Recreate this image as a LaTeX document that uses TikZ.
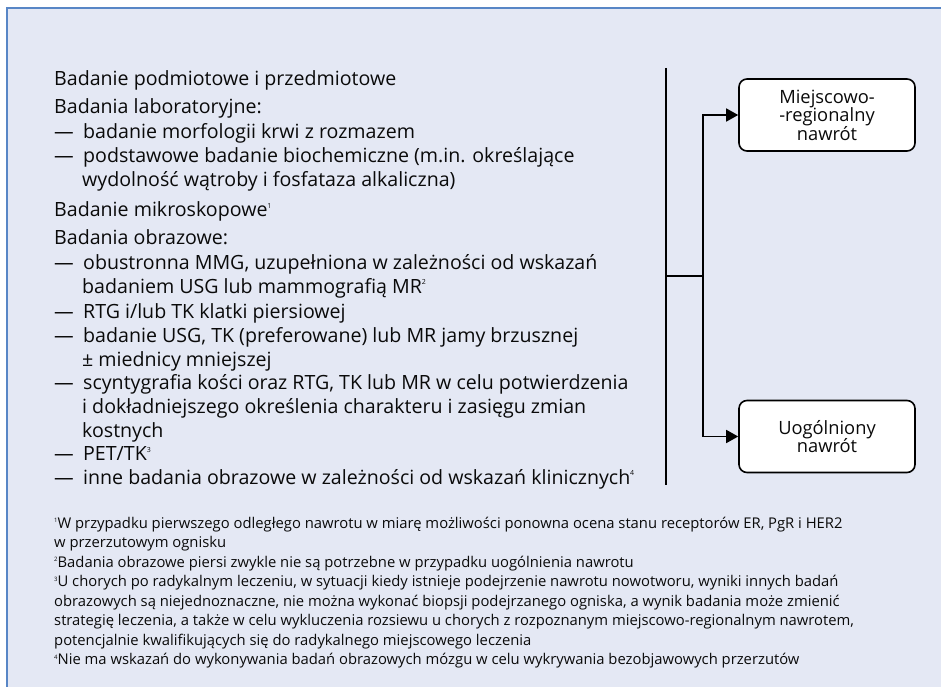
\documentclass[tikz,border=0pt]{standalone}
\usepackage{fontspec}
\setmainfont{Open Sans}
\usetikzlibrary{arrows.meta}
\definecolor{framefill}{RGB}{228,232,244}
\definecolor{frameline}{RGB}{88,134,198}
\definecolor{txt}{RGB}{10,10,10}
\newcommand{\mainsup}[1]{\raisebox{8.5pt}{\fontsize{7}{7}\selectfont #1}}
\newcommand{\fnsup}[1]{\raisebox{5.5pt}{\fontsize{6}{6}\selectfont #1}}
\newcommand{\dashitem}{\makebox[29pt][l]{—}}
\begin{document}
\begin{tikzpicture}[x=1pt,y=-1pt,
  mainline/.style={anchor=base west, inner sep=0pt, font=\fontsize{19.6}{24}\selectfont, text=txt},
  fnline/.style={anchor=base west, inner sep=0pt, font=\fontsize{14.8}{19}\selectfont, text=txt},
  outcome/.style={draw=black, line width=1.6pt, fill=white, rounded corners=8pt, minimum width=176pt, minimum height=72pt, align=center, inner sep=0pt, font=\fontsize{18.3}{18.5}\selectfont, text=txt},
  link/.style={line width=1.6pt, draw=black},
  arr/.style={link, -{Triangle[length=12pt,width=13pt]}}
]
\useasboundingbox (0,0) rectangle (941,687);
\fill[framefill] (7,8) rectangle (941,687);
\draw[frameline, line width=2.5pt] (7,687) -- (7,8) -- (941,8);

\node[mainline] (t1) at (54,85.7) {Badanie podmiotowe i przedmiotowe};
\node[mainline] (t2) at (54,113.3) {Badania laboratoryjne:};
\node[mainline] (t3) at (54,138.3) {\dashitem badanie morfologii krwi z rozmazem};
\node[mainline] (t4) at (54,162.7) {\dashitem podstawowe badanie biochemiczne (m.in. określające};
\node[mainline] (t5) at (82,186) {wydolność wątroby i fosfataza alkaliczna)};
\node[mainline] (t6) at (54,216.7) {Badanie mikroskopowe\mainsup{1}};
\node[mainline] (t7) at (54,244) {Badania obrazowe:};
\node[mainline] (t8) at (54,269) {\dashitem obustronna MMG, uzupełniona w zależności od wskazań};
\node[mainline] (t9) at (82,293) {badaniem USG lub mammografią MR\mainsup{2}};
\node[mainline] (t10) at (54,318) {\dashitem RTG i/lub TK klatki piersiowej};
\node[mainline] (t11) at (54,342) {\dashitem badanie USG, TK (preferowane) lub MR jamy brzusznej};
\node[mainline] (t12) at (82,366) {± miednicy mniejszej};
\node[mainline] (t13) at (54,389) {\dashitem scyntygrafia kości oraz RTG, TK lub MR w celu potwierdzenia};
\node[mainline] (t14) at (82,413) {i dokładniejszego określenia charakteru i zasięgu zmian};
\node[mainline] (t15) at (82,437) {kostnych};
\node[mainline] (t16) at (54,460.7) {\dashitem PET/TK\mainsup{3}};
\node[mainline] (t17) at (54,484) {\dashitem inne badania obrazowe w zależności od wskazań klinicznych\mainsup{4}};

\node[fnline] (f1) at (54,528) {\fnsup{1}W przypadku pierwszego odległego nawrotu w miarę możliwości ponowna ocena stanu receptorów ER, PgR i HER2};
\node[fnline] (f1b) at (54,547.5) {w przerzutowym ognisku};
\node[fnline] (f2) at (54,567) {\fnsup{2}Badania obrazowe piersi zwykle nie są potrzebne w przypadku uogólnienia nawrotu};
\node[fnline] (f3) at (54,586.5) {\fnsup{3}U chorych po radykalnym leczeniu, w sytuacji kiedy istnieje podejrzenie nawrotu nowotworu, wyniki innych badań};
\node[fnline] (f3b) at (54,606) {obrazowych są niejednoznaczne, nie można wykonać biopsji podejrzanego ogniska, a wynik badania może zmienić};
\node[fnline] (f3c) at (54,625.5) {strategię leczenia, a także w celu wykluczenia rozsiewu u chorych z rozpoznanym miejscowo-regionalnym nawrotem,};
\node[fnline] (f3d) at (54,645) {potencjalnie kwalifikujących się do radykalnego miejscowego leczenia};
\node[fnline] (f4) at (54,664.5) {\fnsup{4}Nie ma wskazań do wykonywania badań obrazowych mózgu w celu wykrywania bezobjawowych przerzutów};

\node[outcome] (local) at (827,115) {Miejscowo-\\-regionalny\\nawrót};
\node[outcome] (general) at (827,436.5) {Uogólniony\\nawrót};

\coordinate (vtop) at (666,68);
\coordinate (vbot) at (666,485);
\coordinate (split) at (666,276);
\coordinate (fork) at (703,276);
\draw[link] (vtop) -- (vbot);
\draw[link] (split) -- (fork);
\draw[arr] (fork) |- (local.west);
\draw[arr] (fork) |- (general.west);
\end{tikzpicture}
\end{document}
